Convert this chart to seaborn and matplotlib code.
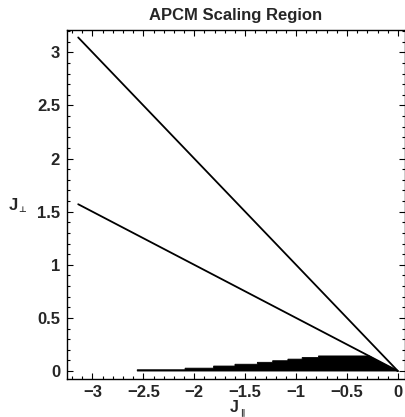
import numpy as np
import pandas as pd
import matplotlib
matplotlib.use("Agg")
import matplotlib.pyplot as plt
from matplotlib.ticker import MultipleLocator
import seaborn as sns

# boundary lines J_perp = -J_par and J_perp = -J_par / 2
line_x = [-3.14, 0.0]
upper_y = [3.14, 0.0]
lower_y = [1.57, 0.0]

# staircase of the scaling region (left edge of each step, height)
step_x = [-2.56, -2.09, -1.81, -1.60, -1.38, -1.23, -1.08, -0.94, -0.78]
step_h = [0.012, 0.027, 0.047, 0.064, 0.082, 0.097, 0.112, 0.127, 0.142]
# rounded tail near the origin
tail_x = [-0.28, -0.20, -0.10, 0.0]
tail_y = [0.142, 0.097, 0.046, 0.0]

sns.set_style("ticks")
plt.rcParams['font.family'] = ['Liberation Sans', 'DejaVu Sans']
plt.rcParams['font.weight'] = 'bold'

W, H = 406, 417
fig = plt.figure(figsize=(W / 100, H / 100), dpi=100)
ax = fig.add_axes([67 / W, 1 - 379 / H, 338 / W, 349 / H])

lines = pd.DataFrame({
    'x': line_x * 2,
    'y': upper_y + lower_y,
    'which': ['upper'] * 2 + ['lower'] * 2,
})
sns.lineplot(data=lines, x='x', y='y', units='which', estimator=None,
             color='black', linewidth=1.3, ax=ax, legend=False)
ax.set_xlabel('')
ax.set_ylabel('')

# polygon of the filled region
px, py = [step_x[0]], [0.0]
for i, (x0, h) in enumerate(zip(step_x, step_h)):
    x1 = step_x[i + 1] if i + 1 < len(step_x) else tail_x[0]
    px += [x0, x1]
    py += [h, h]
px += tail_x
py += tail_y
ax.fill(px, py, facecolor='black', lw=0.6, edgecolor='black')

ax.set_xlim(-3.25, 0.07)
ax.set_ylim(-0.075, 3.21)
ax.xaxis.set_major_locator(MultipleLocator(0.5))
ax.xaxis.set_minor_locator(MultipleLocator(0.1))
ax.yaxis.set_major_locator(MultipleLocator(0.5))
ax.yaxis.set_minor_locator(MultipleLocator(0.1))
ax.tick_params(which='both', direction='in', top=True, right=True,
               color='black', width=0.8, labelsize=12, pad=5)
ax.tick_params(axis='x', pad=4)
ax.tick_params(which='major', length=4)
ax.tick_params(which='minor', length=2)
fmt = plt.FuncFormatter(lambda v, p: f"{v:g}".replace('-', '\u2212'))
ax.xaxis.set_major_formatter(fmt)
ax.yaxis.set_major_formatter(fmt)
for s in ax.spines.values():
    s.set_color('black')
    s.set_linewidth(1.0)

ax.set_title('APCM Scaling Region', fontsize=12, fontweight='bold', pad=7)

# axis labels: bold J with a small subscript symbol
fig.text(13 / W, 1 - 205 / H, 'J', fontsize=12, fontweight='bold', ha='center', va='center')
fig.text(22 / W, 1 - 209 / H, '\u22a5', fontsize=6, family='DejaVu Sans', ha='center', va='center')
fig.text(234 / W, 1 - 408 / H, 'J', fontsize=11.5, fontweight='bold', ha='center', va='center')
fig.text(242 / W, 1 - 412 / H, '\u2225', fontsize=6, family='DejaVu Sans', ha='center', va='center')

fig.savefig('out.png', dpi=100)
